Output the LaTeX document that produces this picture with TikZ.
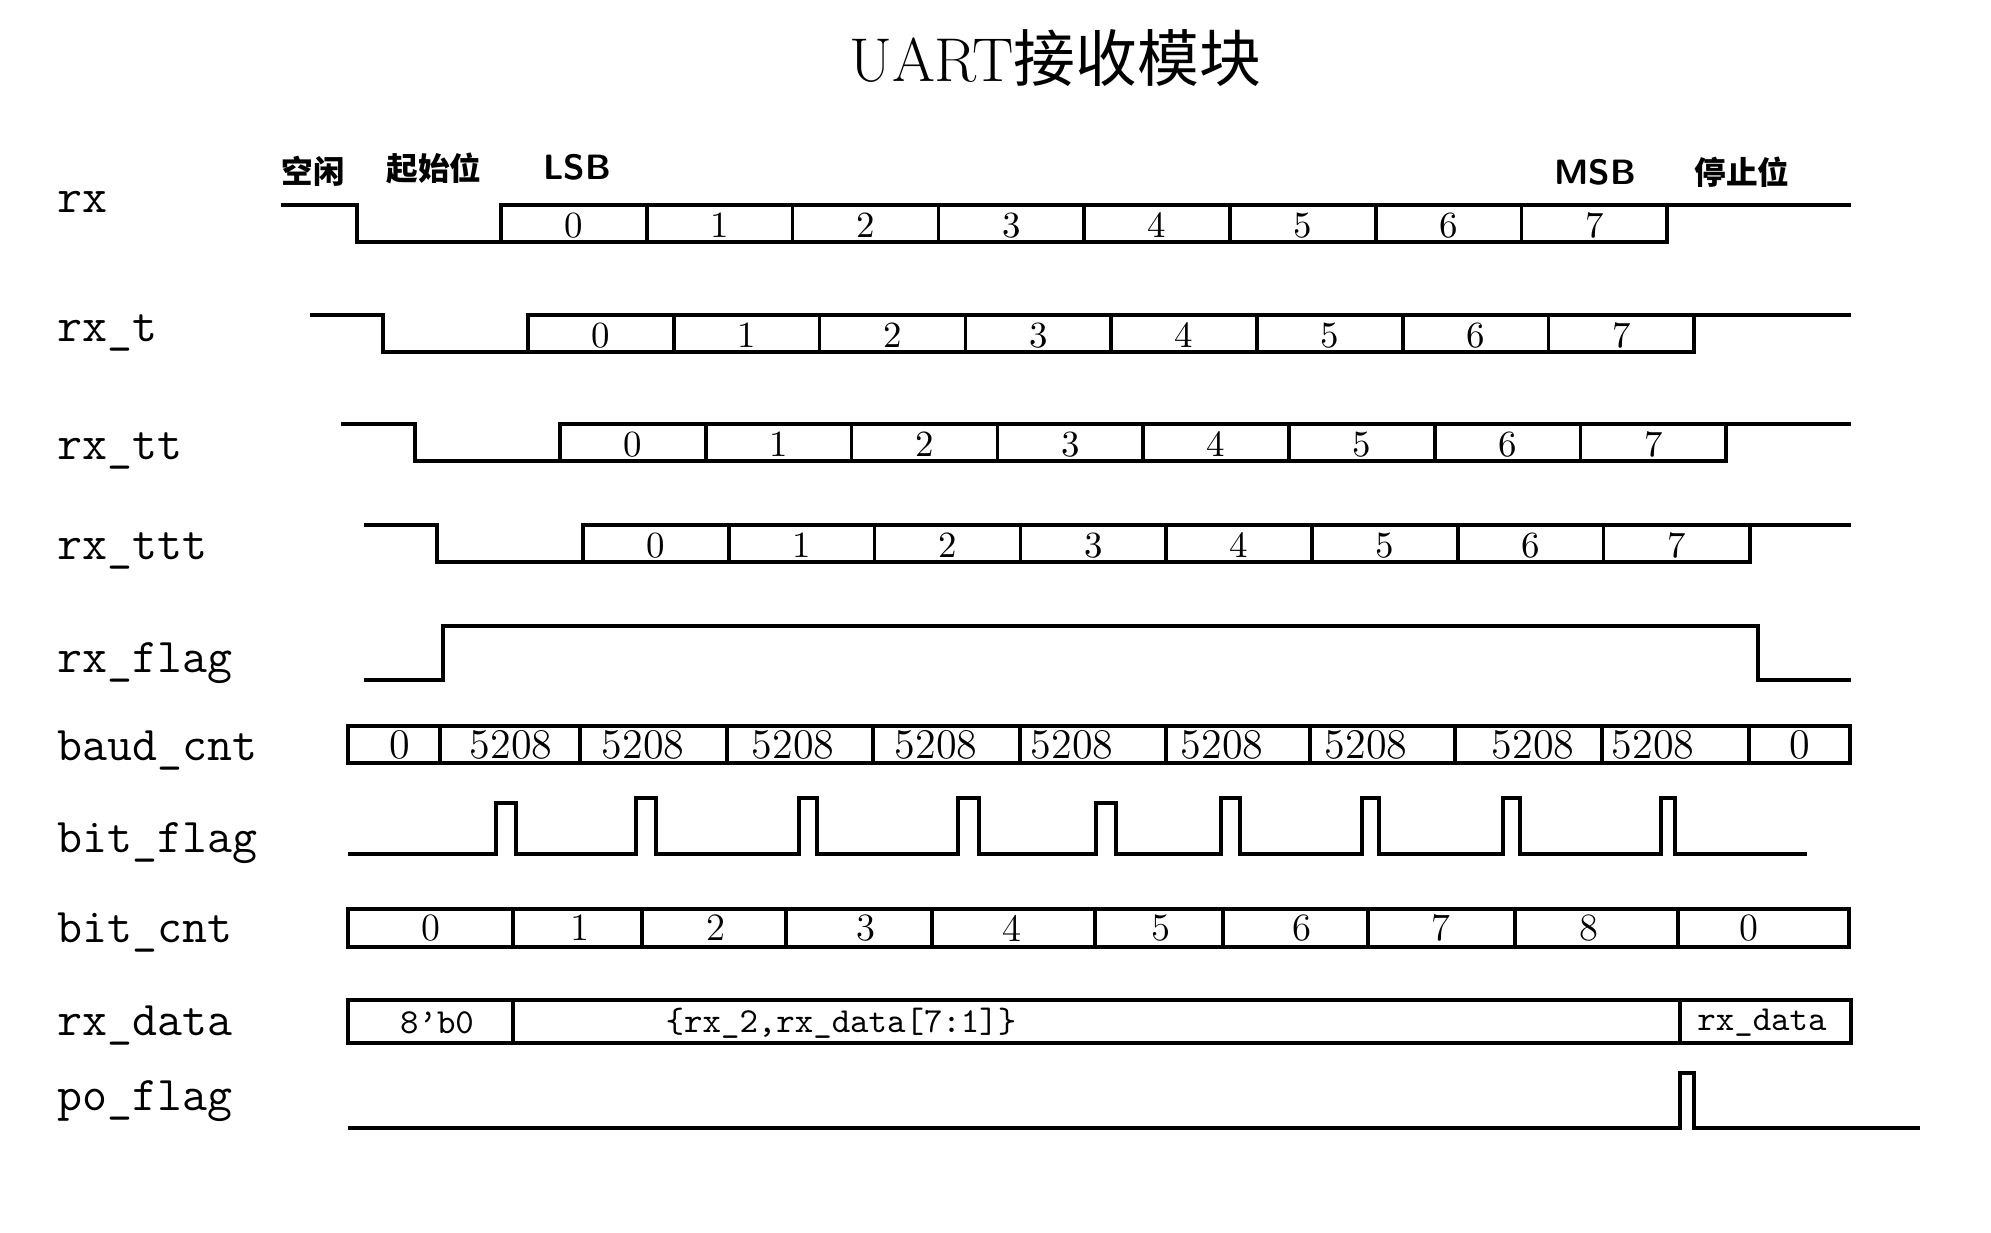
\documentclass[tikz,border=0pt]{standalone}
\usepackage{fontspec}
\usepackage{tikz}
\newfontfamily\cjkfont{Noto Sans CJK SC}

\tikzset{
  wave/.style={line width=1pt},
  siglbl/.style={anchor=base west, inner sep=0pt, font=\ttfamily\fontsize{13.8}{16}\selectfont},
  note/.style={inner sep=0pt, font=\cjkfont\bfseries\fontsize{9}{10}\selectfont},
  bitmark/.style={inner sep=0pt, font=\sffamily\bfseries\fontsize{10}{12}\selectfont},
  bitnum/.style={inner sep=0pt, font=\fontsize{10.5}{12}\selectfont},
  cntnum/.style={inner sep=0pt, font=\fontsize{12}{14}\selectfont},
  idxnum/.style={inner sep=0pt, font=\fontsize{11}{13}\selectfont},
  datatxt/.style={inner sep=0pt, font=\ttfamily\fontsize{10}{12}\selectfont}
}

\begin{document}
\begin{tikzpicture}
  \useasboundingbox (0,0) rectangle (19.91,-12.33);
  % title
  \node[font=\fontsize{17.6}{20}\selectfont] (title) at (10.55,-0.58) {UART{\cjkfont 接收模块}};
  % frame notes
  \node[note] (idle) at (3.13,-1.71) {空闲};
  \node[note] (startbit) at (4.34,-1.68) {起始位};
  \node[bitmark] (lsb) at (5.77,-1.67) {LSB};
  \node[bitmark] (msb) at (15.95,-1.72) {MSB};
  \node[note] (stopbit) at (17.42,-1.72) {停止位};

  % signal names
  \node[siglbl] (n-rx) at (0.57,-2.13) {rx};
  \node[siglbl] (n-rxt) at (0.57,-3.42) {rx\_t};
  \node[siglbl] (n-rxtt) at (0.57,-4.60) {rx\_tt};
  \node[siglbl] (n-rxttt) at (0.57,-5.60) {rx\_ttt};
  \node[siglbl] (n-flag) at (0.57,-6.72) {rx\_flag};
  \node[siglbl] (n-baud) at (0.57,-7.61) {baud\_cnt};
  \node[siglbl] (n-bitflag) at (0.57,-8.53) {bit\_flag};
  \node[siglbl] (n-bitcnt) at (0.57,-9.43) {bit\_cnt};
  \node[siglbl] (n-data) at (0.57,-10.35) {rx\_data};
  \node[siglbl] (n-po) at (0.57,-11.10) {po\_flag};

  % rx and its delayed copies: start/fall/rise/end/high/low
  \foreach \nm/\xs/\xf/\xr/\xe/\yh/\yl in {rx/2.81/3.57/5.01/16.67/2.05/2.42,
      rxt/3.10/3.83/5.28/16.94/3.15/3.52,
      rxtt/3.41/4.15/5.60/17.26/4.24/4.61,
      rxttt/3.64/4.37/5.83/17.50/5.25/5.62}{
    \draw[wave] (\xs,-\yh) -| (\xf,-\yl) -| (\xr,-\yh) -- (18.51,-\yh);
    \draw[wave] (\xr,-\yl) -| (\xe,-\yh);
    \foreach \i in {1,...,7}
      \draw[wave] (\xr+\i*1.458,-\yh) -- (\xr+\i*1.458,-\yl);
    \foreach \i in {0,...,7}
      \node[bitnum] (\nm-\i) at (\xr+\i*1.458+0.729,-\yh/2-\yl/2-0.02) {\i};
  }

  % rx_flag
  \draw[wave] (3.64,-6.80) -| (4.43,-6.26) -| (17.58,-6.80) -- (18.51,-6.80);

  % baud_cnt
  \draw[wave] (3.48,-7.26) rectangle (18.50,-7.63);
  \foreach \x in {4.40,5.80,7.27,8.73,10.20,11.66,13.10,14.55,16.02,17.49}
    \draw[wave] (\x,-7.26) -- (\x,-7.63);
  \foreach \x/\v [count=\k] in {4.00/0,5.11/5208,6.43/5208,7.93/5208,9.36/5208,10.72/5208,
      12.22/5208,13.66/5208,15.33/5208,16.53/5208,18.00/0}
    \node[cntnum] (baud-\k) at (\x,-7.445) {\v};

  % bit_flag
  \draw[wave] (3.48,-8.54) \foreach \a/\b/\t in {4.96/5.16/8.03,6.36/6.56/7.98,7.99/8.17/7.98,
      9.58/9.79/7.98,10.96/11.16/8.03,12.21/12.40/7.98,13.62/13.79/7.98,15.03/15.20/7.98,
      16.61/16.75/7.98} { -| (\a,-\t) -| (\b,-8.54) } -- (18.07,-8.54);

  % bit_cnt
  \draw[wave] (3.48,-9.09) rectangle (18.49,-9.47);
  \foreach \x in {5.13,6.42,7.86,9.32,10.95,12.23,13.68,15.15,16.78}
    \draw[wave] (\x,-9.09) -- (\x,-9.47);
  \foreach \x/\v [count=\k] in {4.31/0,5.80/1,7.16/2,8.66/3,10.12/4,11.61/5,13.02/6,
      14.41/7,15.89/8,17.49/0}
    \node[idxnum] (cnt-\k) at (\x,-9.28) {\v};

  % rx_data
  \draw[wave] (3.48,-10.00) rectangle (18.51,-10.43);
  \draw[wave] (5.13,-10.00) -- (5.13,-10.43);
  \draw[wave] (16.80,-10.00) -- (16.80,-10.43);
  \node[datatxt] (d-init) at (4.37,-10.23) {8’b0};
  \node[datatxt] (d-shift) at (8.41,-10.23) {\{rx\_2,rx\_data[7:1]\}};
  \node[datatxt] (d-hold) at (17.62,-10.23) {rx\_data};

  % po_flag
  \draw[wave] (3.48,-11.28) -| (16.80,-10.73) -| (16.94,-11.28) -- (19.20,-11.28);
\end{tikzpicture}
\end{document}
